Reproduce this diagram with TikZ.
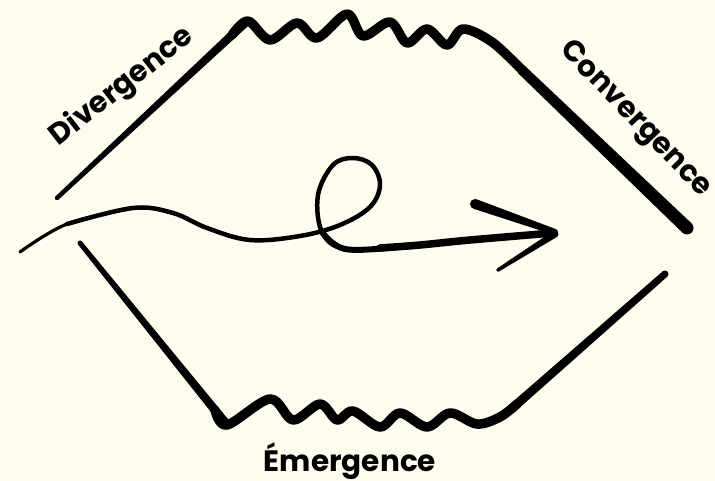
\documentclass[tikz,border=0pt]{standalone}
\usepackage{fontspec}
\newfontfamily\labfont{Poppins}
\usetikzlibrary{calc}
\definecolor{paper}{HTML}{FEFCEE}
\tikzset{
  ink/.style={draw=black, line cap=round, line join=round},
  lab/.style={font=\labfont\bfseries\fontsize{29.5}{30}\selectfont, inner sep=0pt, text=black},
}
% tapered straight stroke: start, end, half width at start, half width at end
\newcommand\taperline[4]{%
  \fill ($#1!#3!90:#2$) -- ($#2!#4!-90:#1$) -- ($#2!#4!90:#1$) -- ($#1!#3!-90:#2$) -- cycle;
  \fill #1 circle[radius=#3]; \fill #2 circle[radius=#4];
}
\begin{document}
\begin{tikzpicture}[x=1pt,y=-1pt]
\fill[paper] (0,0) rectangle (715,481);
\useasboundingbox (0,0) rectangle (715,481);

% ---- top outline ----
\taperline{(57,198)}{(246,22)}{2.2pt}{4.4pt}
\draw[ink, line width=9.5pt] plot[smooth, tension=0.55] coordinates
  {(232,35) (248,21) (270,40) (297,23) (317,38) (347,14) (363,36) (390,22) (407,43) (427,29) (447,45) (463,29) (492,42) (522,70)};
\taperline{(522,70)}{(687,228)}{5pt}{6.5pt}

% ---- bottom outline ----
\taperline{(80,243)}{(227,425)}{2.5pt}{4.5pt}
\draw[ink, line width=9.5pt] plot[smooth, tension=0.55] coordinates
  {(215,410) (227,425) (270,399) (293,420) (320,404) (337,420) (353,411) (380,427) (400,413) (427,427) (450,413) (477,424) (500,417) (517,404)};
\taperline{(517,404)}{(665,274)}{4.5pt}{3.5pt}

% ---- arrow ----
\draw[ink, line width=3.2pt] plot[smooth, tension=0.6] coordinates
  {(20,252) (67,224) (133,208)};
\draw[ink, line width=4.5pt] plot[smooth, tension=0.6] coordinates
  {(67,224) (133,208) (173,213) (207,228) (250,240) (300,236) (340,225) (370,207) (380,185) (372,165) (353,158) (333,165) (318,195) (322,232) (345,249) (400,247)};
\draw[ink, line width=6pt] plot[smooth, tension=0.6] coordinates
  {(322,232) (345,249) (400,247) (440,243)};
\draw[ink, line width=7.5pt] plot[smooth, tension=0.6] coordinates
  {(380,248) (420,245) (470,240) (553,233)};
\taperline{(475,204)}{(555,232)}{5pt}{3pt}
\taperline{(555,234)}{(498,270)}{3.5pt}{1.8pt}

% ---- labels ----
\node[lab, rotate=38] (div) at (122,87) {Divergence};
\node[lab, rotate=-46] (conv) at (635,120) {Convergence};
\node[lab, anchor=base] (emer) at (350,471) {Émergence};
\end{tikzpicture}
\end{document}
